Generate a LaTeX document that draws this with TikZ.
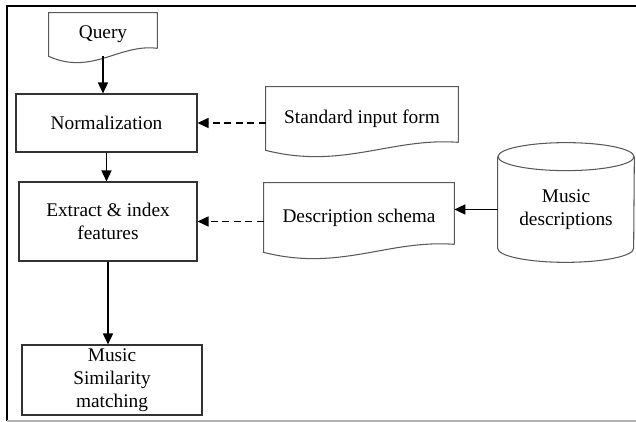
\documentclass[tikz,border=0pt]{standalone}
\usepackage{fontspec}
\setmainfont{Liberation Serif}
\usetikzlibrary{arrows.meta,calc}

\begin{document}
\begin{tikzpicture}[font=\fontsize{11}{13}\selectfont]
	\tikzstyle{box}=[draw=black!80,line width=0.6pt,align=center,inner sep=1pt]
	\tikzstyle{txt}=[align=center,inner sep=1pt]
	\tikzstyle{docline}=[draw=black!65,line width=0.6pt]
	\tikzstyle{arr}=[line width=0.9pt,-{Triangle[length=0.22cm,width=0.2cm]}]
	\tikzstyle{darr}=[arr,dash pattern=on 0.14cm off 0.09cm]
	\useasboundingbox (0,0) rectangle (12.72,8.44);
	\draw[line width=1.3pt] (12.72,8.32) -- (0.14,8.32) -- (0.14,0.02);
	\draw[black!30,line width=0.6pt] (0.14,0.02) -- (12.72,0.02);
	\node[txt,minimum width=2.16cm,minimum height=0.86cm] (query) at (2.06,7.75) {Query};
	\node[txt,minimum width=3.84cm,minimum height=1.26cm] (stdform) at (7.24,6.07) {Standard input form};
	\node[txt,minimum width=3.8cm,minimum height=1.38cm] (schema) at (7.18,4.09) {Description schema};
	\foreach \n in {query,stdform,schema} {
		\draw[docline] ([yshift=0.16cm]\n.south east) -- (\n.north east) -- (\n.north west) -- (\n.south west)
			.. controls ([yshift=-0.39cm]$(\n.south west)!0.4!(\n.south east)$) and ([yshift=0.26cm]$(\n.south west)!0.65!(\n.south east)$) .. ([yshift=0.16cm]\n.south east);
	}
	\node[box,minimum width=3.62cm,minimum height=1.16cm] (norm) at (2.13,5.98) {Normalization};
	\node[box,minimum width=3.56cm,minimum height=1.58cm] (extract) at (2.16,4.01) {Extract \& index\\features};
	\node[box,minimum width=3.6cm,minimum height=1.4cm] (sim) at (2.24,0.84) {Music\\Similarity\\matching};
	\node[txt,minimum width=2.72cm,minimum height=2.1cm] (mdesc) at (11.32,4.25) {Music\\descriptions};
	\draw[docline] (mdesc.north west) -- ([yshift=0.28cm]mdesc.south west) arc (180:360:1.36cm and 0.28cm) -- (mdesc.north east);
	\draw[docline] (mdesc.north) ellipse (1.36cm and 0.28cm);
	\draw[arr] (query.south) -- (query.south |- norm.north);
	\draw[arr] (norm.south) -- (norm.south |- extract.north);
	\draw[arr] (extract.south) -- (extract.south |- sim.north);
	\draw[darr] (stdform.west |- norm.east) -- (norm.east);
	\draw[darr] (schema.west |- extract.east) -- (extract.east);
	\draw[arr] (mdesc.west) -- (mdesc.west -| schema.east);
\end{tikzpicture}
\end{document}
